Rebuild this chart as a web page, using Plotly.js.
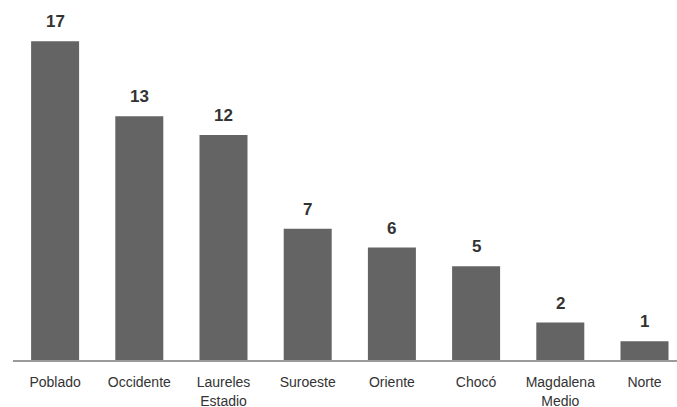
<!DOCTYPE html>
<html><head><meta charset="utf-8">
<script src="https://cdn.plot.ly/plotly-3.0.1.min.js"></script>
<style>html,body{margin:0;padding:0;background:#fff;}#chart{width:677px;height:407px;}</style>
</head><body><div id="chart"></div>
<script>
const categories = ["Poblado", "Occidente", "Laureles<br>Estadio", "Suroeste", "Oriente", "Chocó", "Magdalena<br>Medio", "Norte"];
const values = [17, 13, 12, 7, 6, 5, 2, 1];
const valueLabels = ["17", "13", "12", "7", "6", "5", "2", "1"];

const trace = {
  type: 'bar', x: categories, y: values,
  marker: {color: '#646464'},
  hoverinfo: 'none'
};
const annotations = categories.map((c, i) => ({
  x: c, y: values[i], xref: 'x', yref: 'y', text: '<b>' + valueLabels[i] + '</b>',
  showarrow: false, yanchor: 'bottom', yshift: 8,
  font: {family: 'Liberation Sans, Arial, sans-serif', size: 17, color: '#333333'}
}));
const layout = {
  width: 677, height: 407,
  margin: {l: 13, r: 0, t: 10, b: 47},
  paper_bgcolor: '#ffffff', plot_bgcolor: '#ffffff',
  bargap: 0.43,
  showlegend: false,
  xaxis: {
    type: 'category', range: [-0.5, 7.386],
    showline: true, linecolor: '#9a9a9a', linewidth: 1.5,
    ticks: '', showgrid: false, zeroline: false,
    ticklabelstandoff: 9,
    tickfont: {family: 'Liberation Sans, Arial, sans-serif', size: 14, color: '#333333'},
    tickangle: 0
  },
  yaxis: {
    range: [0, 18.67], visible: false, showgrid: false, zeroline: false
  },
  annotations: annotations
};
Plotly.newPlot('chart', [trace], layout, {displayModeBar: false, staticPlot: true});
</script></body></html>
